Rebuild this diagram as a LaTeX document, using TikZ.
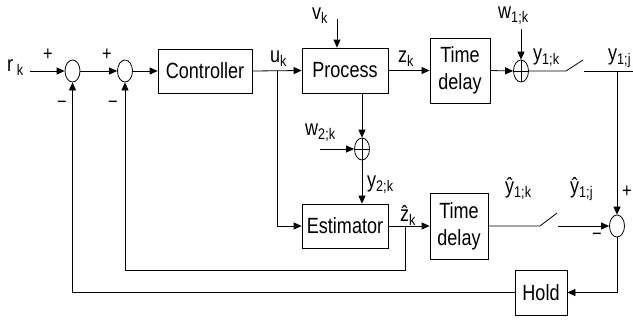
\documentclass[tikz,border=0pt]{standalone}
\usepackage{fontspec}
\setmainfont{Liberation Sans}[FakeStretch=0.82]
\usetikzlibrary{arrows.meta,shapes.geometric}
\begin{document}
\begin{tikzpicture}[x=1pt,y=-1pt,
  font=\fontsize{22}{27}\selectfont,
  ln/.style={line width=0.8pt},
  arr/.style={ln,-{Triangle[length=8pt,width=7pt]}},
  blk/.style={draw,line width=0.8pt,inner sep=0pt,align=center},
  sumc/.style={draw,ellipse,line width=0.8pt,minimum width=15pt,minimum height=22pt,inner sep=0pt},
  sump/.style={sumc,path picture={\draw[line width=0.5pt]
     (path picture bounding box.north) -- (path picture bounding box.south)
     (path picture bounding box.west) -- (path picture bounding box.east);}},
  lbl/.style={inner sep=0pt,anchor=base west},
  sgn/.style={inner sep=0pt,font=\fontsize{20}{24}\selectfont},
]
\useasboundingbox (0,0) rectangle (633,325);
% blocks
\node[sumc] (s1) at (72.5,71) {};
\node[sumc] (s2) at (125,71) {};
\node[blk,minimum width=94pt,minimum height=44pt] (ctrl) at (205,71) {Controller};
\node[blk,minimum width=86pt,minimum height=45pt] (proc) at (345,70.5) {Process};
\node[blk,minimum width=60pt,minimum height=65pt] (td1) at (460,70.5) {Time\\delay};
\node[sump] (s4) at (521,71) {};
\node[sump] (s5) at (362,149) {};
\node[blk,minimum width=86pt,minimum height=44pt] (est) at (345,226) {Estimator};
\node[blk,minimum width=58pt,minimum height=66pt] (td2) at (459,226) {Time\\delay};
\node[sumc] (s3) at (617,226) {};
\node[blk,minimum width=52pt,minimum height=45pt] (hold) at (541,292.5) {Hold};
% coordinates
\coordinate (rin) at (30,71);
\coordinate (bu) at (277,71);
\coordinate (vin) at (337,19);
\coordinate (w1in) at (521,29);
\coordinate (w2in) at (320,149);
\coordinate (sw1a) at (566,71);
\coordinate (sw1b) at (583,60);
\coordinate (sw1c) at (584,71);
\coordinate (endr) at (633,71);
\coordinate (sw2a) at (540,226);
\coordinate (sw2b) at (557,213);
\coordinate (sw2c) at (558,226);
\coordinate (b2) at (405,226);
\coordinate (fb2) at (405,270);
% connectors
\draw[arr] (rin) -- (s1.west);
\draw[arr] (s1.east) -- (s2.west);
\draw[arr] (s2.east) -- (ctrl.west);
\draw[arr] (ctrl.east) -- (proc.west);
\draw[arr] (proc.east) -- (td1.west);
\draw[arr] (td1.east) -- (s4.west);
\draw[arr] (vin) -- (vin |- proc.north);
\draw[arr] (w1in) -- (s4.north);
\draw[ln] (s4.east) -- (sw1a) -- (sw1b);
\draw[ln] (sw1c) -- (endr);
\draw[arr] (s3 |- sw1c) -- (s3.north);
\draw[arr] (proc.south -| s5) -- (s5.north);
\draw[arr] (w2in) -- (s5.west);
\draw[arr] (s5.south) -- (s5 |- est.north);
\draw[arr] (bu) |- (est.west);
\draw[arr] (est.east) -- (td2.west);
\draw[ln] (td2.east) -- (sw2a) -- (sw2b);
\draw[arr] (sw2c) -- (s3.west);
\draw[arr] (s3.south) |- (hold.east);
\draw[arr] (hold.west) -| (s1.south);
\draw[arr] (b2) -- (fb2) -| (s2.south);
% labels
\node[lbl] (lr) at (7,71) {r\,\textsubscript{k}};
\node[lbl] (lu) at (270,62) {u\textsubscript{k}};
\node[lbl] (lv) at (312,19) {v\textsubscript{k}};
\node[lbl] (lz) at (398,62) {z\textsubscript{k}};
\node[lbl] (lw1) at (498,18) {w\textsubscript{1;k}};
\node[lbl] (ly1k) at (533,60) {y\textsubscript{1;k}};
\node[lbl] (ly1j) at (608,60) {y\textsubscript{1;j}};
\node[lbl] (lw2) at (305,135) {w\textsubscript{2;k}};
\node[lbl] (ly2) at (367,187) {y\textsubscript{2;k}};
\node[lbl] (lzh) at (400,221) {\^{z}\textsubscript{k}};
\node[lbl] (lyh1k) at (505,193) {\^{y}\textsubscript{1;k}};
\node[lbl] (lyh1j) at (570,193) {\^{y}\textsubscript{1;j}};
% signs
\node[sgn] (p1) at (48,55) {+};
\node[sgn] (p2) at (107,55) {+};
\node[sgn] (m1) at (62,105) {\textminus};
\node[sgn] (m2) at (113,105) {\textminus};
\node[sgn] (p3) at (627,192) {+};
\node[sgn] (m3) at (597,237) {\textminus};
\end{tikzpicture}
\end{document}
